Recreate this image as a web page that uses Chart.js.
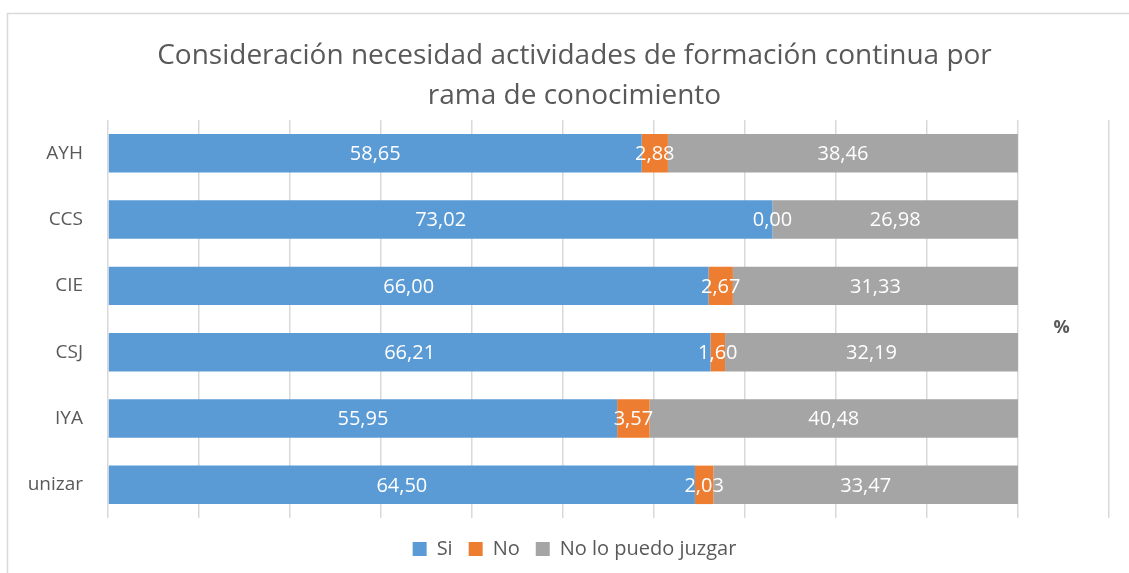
<!DOCTYPE html>
<html>
<head>
<meta charset="utf-8">
<script src="https://cdn.jsdelivr.net/npm/chart.js@4"></script>
<style>
  body { margin: 0; background: #fff; }
  #wrap { width: 1129px; height: 573px; }
</style>
</head>
<body>
<div id="wrap"><canvas id="grafico"></canvas></div>
<script>
// ramas de conocimiento
const ramas = ['AYH', 'CCS', 'CIE', 'CSJ', 'IYA', 'unizar'];
// porcentajes por respuesta
const si = [58.65, 73.02, 66.00, 66.21, 55.95, 64.50];
const no = [2.88, 0.00, 2.67, 1.60, 3.57, 2.03];
const noJuzgar = [38.46, 26.98, 31.33, 32.19, 40.48, 33.47];

const gris = '#595959';
Chart.defaults.font.family = '"Open Sans", sans-serif';
Chart.defaults.color = gris;

// etiquetas dentro de cada tramo
const etiquetas = {
  id: 'etiquetas',
  afterDatasetsDraw(chart) {
    const ctx = chart.ctx;
    ctx.save();
    ctx.font = '20px "Open Sans", sans-serif';
    ctx.fillStyle = '#fff';
    ctx.textAlign = 'center';
    ctx.textBaseline = 'middle';
    chart.data.datasets.forEach((ds, i) => {
      chart.getDatasetMeta(i).data.forEach((bar, j) => {
        const v = ds.data[j];
        ctx.fillText(v.toFixed(2).replace('.', ','), (bar.x + bar.base) / 2, bar.y + 1);
      });
    });
    ctx.restore();
  }
};

// marco y el "%" de la derecha
const marco = {
  id: 'marco',
  beforeDraw(chart) {
    const ctx = chart.ctx;
    ctx.save();
    ctx.strokeStyle = '#d9d9d9';
    ctx.lineWidth = 1.5;
    ctx.strokeRect(7.5, 13.5, 1140, 600);
    ctx.restore();
  },
  afterDraw(chart) {
    const ctx = chart.ctx;
    const a = chart.chartArea;
    ctx.save();
    ctx.font = 'bold 18px "Open Sans", sans-serif';
    ctx.fillStyle = gris;
    ctx.textAlign = 'center';
    ctx.textBaseline = 'middle';
    ctx.fillText('%', chart.scales.x.getPixelForValue(104.8), (a.top + a.bottom) / 2 + 9);
    ctx.restore();
  }
};

new Chart(document.getElementById('grafico'), {
  type: 'bar',
  data: {
    labels: ramas,
    datasets: [
      { label: 'Si', data: si, backgroundColor: '#5b9bd5' },
      { label: 'No', data: no, backgroundColor: '#ed7d31' },
      { label: 'No lo puedo juzgar', data: noJuzgar, backgroundColor: '#a5a5a5' }
    ]
  },
  options: {
    indexAxis: 'y',
    responsive: true,
    maintainAspectRatio: false,
    animation: false,
    categoryPercentage: 1,
    barPercentage: 0.58,
    layout: { padding: { left: 20, right: 0, top: 0, bottom: 4 } },
    scales: {
      x: {
        stacked: true,
        min: 0,
        max: 112.2,
        ticks: { display: false, stepSize: 10, includeBounds: false },
        grid: { color: '#d9d9d9', lineWidth: 1.5, drawTicks: false },
        border: { display: false },
        afterFit(s) { s.height = 5; }
      },
      y: {
        stacked: true,
        ticks: { padding: 25, font: { size: 19 }, color: gris },
        grid: { display: false, drawTicks: false },
        border: { display: false },
        afterFit(s) { s.width = 88; }
      }
    },
    plugins: {
      title: {
        display: true,
        text: ['Consideración necesidad actividades de formación continua por', 'rama de conocimiento'],
        font: { size: 28, weight: 'normal', lineHeight: 1.43 },
        color: gris,
        padding: { top: 36, bottom: 4 }
      },
      legend: {
        position: 'bottom',
        labels: { boxWidth: 14, boxHeight: 14, padding: 16, font: { size: 20 }, color: gris }
      },
      tooltip: { enabled: false }
    }
  },
  plugins: [etiquetas, marco]
});
</script>
</body>
</html>
